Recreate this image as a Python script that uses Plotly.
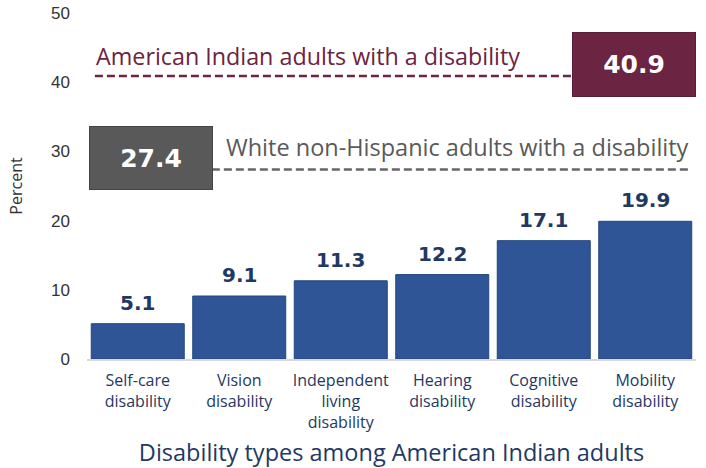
import plotly.graph_objects as go

# Disability prevalence among American Indian adults, by type (percent)
categories = ["Self-care<br>disability", "Vision<br>disability", "Independent<br>living<br>disability",
              "Hearing<br>disability", "Cognitive<br>disability", "Mobility<br>disability"]
values = [5.1, 9.1, 11.3, 12.2, 17.1, 19.9]

# Reference rates for any disability (percent)
ref_labels = ["American Indian adults with a disability", "White non-Hispanic adults with a disability"]
ref_values = [40.9, 27.4]

y_ticks = [0, 10, 20, 30, 40, 50]

NAVY = "#1F3864"
BAR = "#2F5597"
MAROON = "#6B2441"
GRAY = "#595959"
SANS = "'Open Sans', Lato, sans-serif"
ARIAL = "'Liberation Sans', Arial, sans-serif"
HEAVY = "'DejaVu Sans', 'Liberation Sans', sans-serif"

fig = go.Figure()
fig.add_trace(go.Bar(
    x=categories, y=values,
    marker=dict(color=BAR, line=dict(color="#22467F", width=1)),
    hoverinfo="skip",
))

shapes = [
    dict(type="line", xref="paper", yref="y", x0=0.013, x1=0.798,
         y0=ref_values[0], y1=ref_values[0],
         line=dict(color=MAROON, width=2.5, dash="8px,4px")),
    dict(type="line", xref="paper", yref="y", x0=0.205, x1=0.992,
         y0=ref_values[1], y1=ref_values[1],
         line=dict(color="#666666", width=2.5, dash="8px,4px")),
]

annotations = [
    # value boxes
    dict(xref="paper", yref="y", x=0.899, y=ref_values[0], yshift=11,
         xanchor="center", yanchor="middle",
         text=f"<b>{ref_values[0]:.1f}</b>", showarrow=False,
         width=120, height=61, bgcolor=MAROON, bordercolor="#5A1D37", borderwidth=1,
         font=dict(family=HEAVY, size=25, color="white")),
    dict(xref="paper", yref="y", x=0.105, y=ref_values[1], yshift=11,
         xanchor="center", yanchor="middle",
         text=f"<b>{ref_values[1]:.1f}</b>", showarrow=False,
         width=120, height=60, bgcolor=GRAY, bordercolor="#444444", borderwidth=1,
         font=dict(family=HEAVY, size=25, color="white")),
    # line labels
    dict(xref="paper", yref="y", x=0.012, y=ref_values[0], yshift=2,
         xanchor="left", yanchor="bottom", text=ref_labels[0], showarrow=False,
         font=dict(family=SANS, size=23.3, color=MAROON)),
    dict(xref="paper", yref="y", x=0.992, y=ref_values[1], yshift=4,
         xanchor="right", yanchor="bottom", text=ref_labels[1], showarrow=False,
         font=dict(family=SANS, size=23.5, color=GRAY)),
]

# value labels above each bar
for c, v in zip(categories, values):
    annotations.append(dict(
        x=c, y=v, xref="x", yref="y", yanchor="bottom", yshift=7,
        text=f"<b>{v:.1f}</b>", showarrow=False,
        font=dict(family=HEAVY, size=20, color=NAVY)))

fig.update_layout(
    width=706, height=468,
    margin=dict(l=87, r=10, t=13, b=109),
    paper_bgcolor="white", plot_bgcolor="white",
    bargap=0.084,
    showlegend=False,
    shapes=shapes,
    annotations=annotations,
    xaxis=dict(
        range=[-0.5, 5.5], automargin=False,
        showline=True, linecolor="#D9D9D9", linewidth=1.5,
        showgrid=False, ticks="",
        ticklabelstandoff=6,
        tickfont=dict(family=SANS, size=16, color=NAVY),
        title=dict(text="Disability types among American Indian adults",
                   font=dict(family=SANS, size=23.5, color=NAVY), standoff=14),
    ),
    yaxis=dict(
        range=[0, 50], tickvals=y_ticks, automargin=False,
        showgrid=False, zeroline=False, showline=False, ticks="",
        ticklabelstandoff=16,
        tickfont=dict(family=ARIAL, size=17, color="#333333"),
        title=dict(text="Percent", font=dict(family=SANS, size=16, color="#333333"),
                   standoff=24),
    ),
)

fig.write_html("out.html")
